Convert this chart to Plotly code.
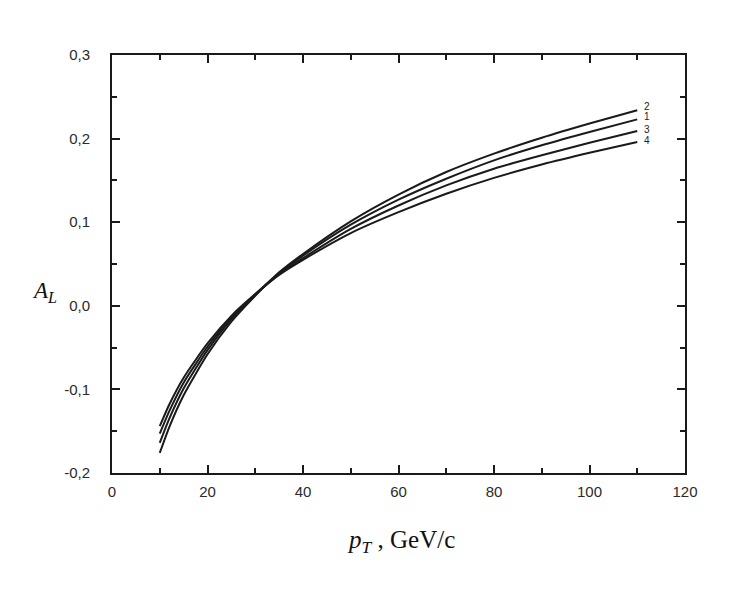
import plotly.graph_objects as go

# p_T values (GeV/c) at which the curves were read
pt = [10, 12, 15, 20, 25, 30, 35, 40, 50, 60, 70, 80, 90, 100, 110]

# A_L for each curve
curve_1 = [-0.164, -0.135, -0.099, -0.053, -0.016, 0.014, 0.039, 0.060, 0.097, 0.127, 0.152, 0.174, 0.192, 0.208, 0.223]
curve_2 = [-0.176, -0.145, -0.107, -0.058, -0.019, 0.012, 0.040, 0.062, 0.101, 0.133, 0.160, 0.182, 0.201, 0.218, 0.234]
curve_3 = [-0.153, -0.126, -0.092, -0.049, -0.014, 0.013, 0.038, 0.057, 0.092, 0.120, 0.144, 0.164, 0.180, 0.195, 0.209]
curve_4 = [-0.144, -0.118, -0.086, -0.045, -0.012, 0.014, 0.037, 0.055, 0.087, 0.112, 0.134, 0.153, 0.169, 0.183, 0.196]

# y tick labels as printed (comma decimal, plain hyphen)
y_ticks = [-0.2, -0.1, 0.0, 0.1, 0.2, 0.3]
y_ticktext = ['-0,2', '-0,1', '0,0', '0,1', '0,2', '0,3']

curves = {'1': curve_1, '2': curve_2, '3': curve_3, '4': curve_4}
label_yshift = {'2': 4, '1': 3, '3': 2, '4': 1}

fig = go.Figure()

for name, vals in curves.items():
    fig.add_trace(go.Scatter(
        x=pt, y=vals, mode='lines', name=name,
        line=dict(color='#1a1a1a', width=2, shape='spline', smoothing=0.6),
        showlegend=False, hoverinfo='skip',
    ))
    # small number label right after the curve end
    fig.add_annotation(
        x=pt[-1], y=vals[-1], text=name, showarrow=False,
        xanchor='left', yanchor='middle', xshift=5, yshift=label_yshift[name],
        font=dict(family='Liberation Sans, Arial', size=10, color='#222'),
    )

axis_common = dict(
    showline=True, linecolor='#1a1a1a', linewidth=2, mirror='allticks',
    ticks='inside', ticklen=8, tickwidth=2, tickcolor='#1a1a1a',
    showgrid=False, zeroline=False,
    tickfont=dict(family='Liberation Sans, Arial', size=15, color='#2a2a2a'),
    minor=dict(ticks='inside', ticklen=5, tickwidth=1.5, tickcolor='#1a1a1a', showgrid=False),
)

fig.update_xaxes(range=[0, 120], tick0=0, dtick=20, minor_dtick=10,
                 ticklabelstandoff=4, **axis_common)
fig.update_yaxes(range=[-0.2, 0.3], tickvals=y_ticks, ticktext=y_ticktext,
                 minor_dtick=0.05, minor_tick0=-0.2,
                 ticklabelstandoff=17, **axis_common)

# axis titles as annotations (serif, italic symbols)
fig.add_annotation(
    xref='paper', yref='paper', x=-0.118, y=0.433,
    xanchor='center', yanchor='middle',
    text='<i>A</i><sub><i>L</i></sub>', showarrow=False,
    font=dict(family='Liberation Serif, Times New Roman', size=23, color='#111'),
)
fig.add_annotation(
    xref='paper', yref='paper', x=0.504, y=-0.165,
    xanchor='center', yanchor='middle',
    text='<i>p</i><sub><i>T</i></sub> , GeV/c', showarrow=False,
    font=dict(family='Liberation Serif, Times New Roman', size=25, color='#111'),
)

fig.update_layout(
    width=745, height=599,
    margin=dict(l=104, r=68, t=47, b=134),
    paper_bgcolor='white', plot_bgcolor='white',
    separators=',.',
)

fig.write_html("out.html")
